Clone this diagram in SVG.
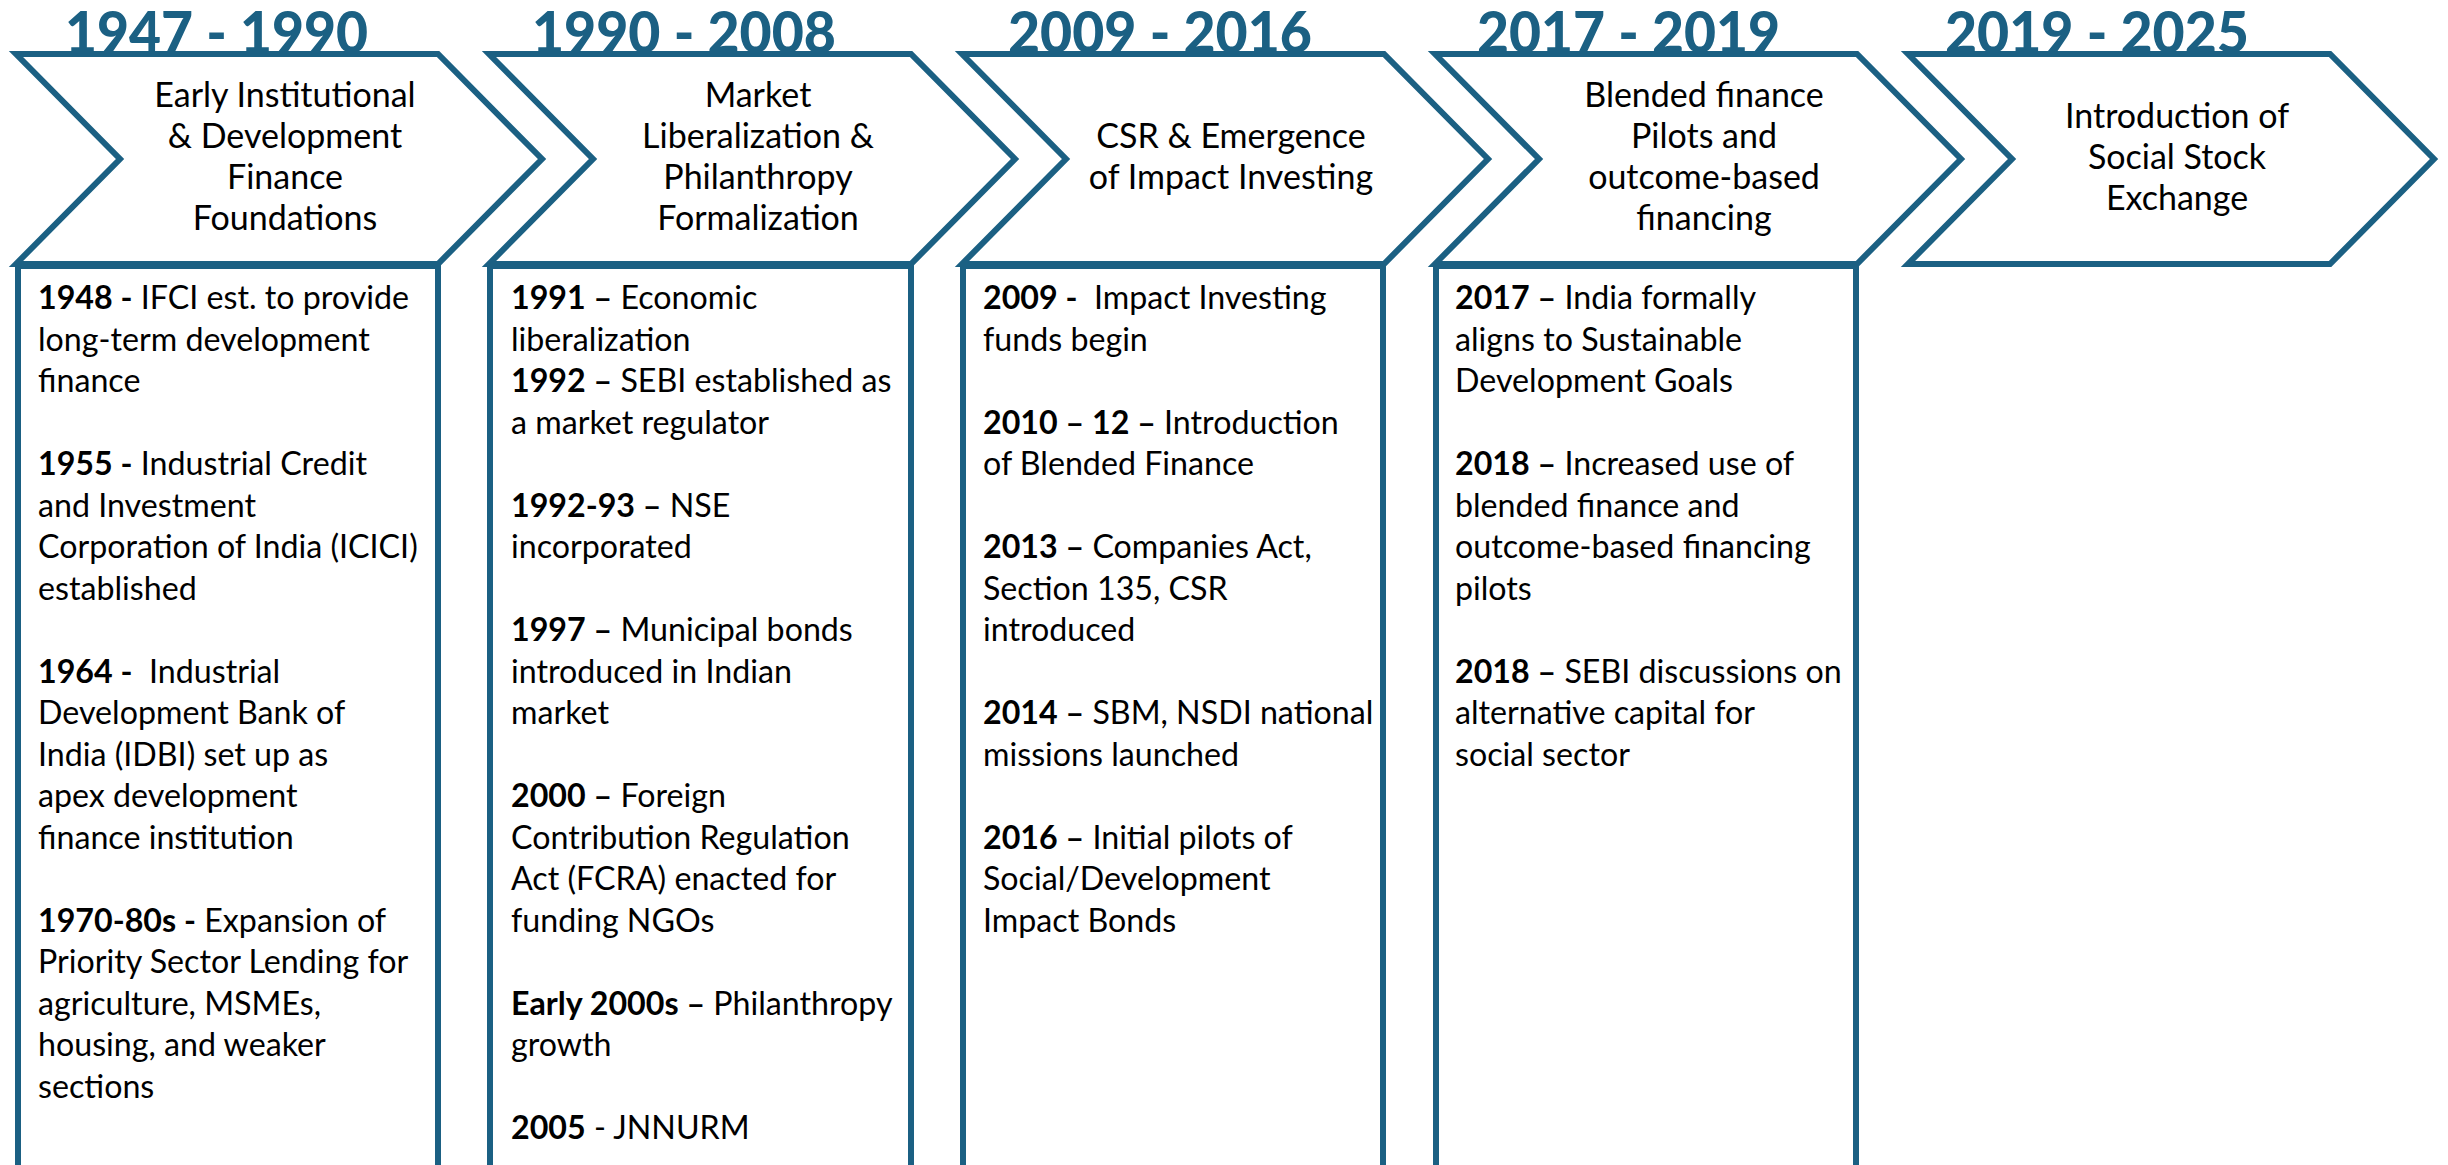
<svg xmlns="http://www.w3.org/2000/svg" width="2448" height="1165" viewBox="0 0 2448 1165">
<style>
.chev{fill:#fff;stroke:#1b6083;stroke-width:6;stroke-linejoin:miter;stroke-miterlimit:10}
.box{fill:#fff;stroke:#1b6083;stroke-width:6}
.yr{font-family:Lato,"Liberation Sans",sans-serif;font-weight:900;font-size:58px;fill:#1b6083}
.ttl{font-family:Lato,"Liberation Sans",sans-serif;font-size:34px;fill:#000;text-anchor:middle}
.bx{font-family:Lato,"Liberation Sans",sans-serif;font-size:32.2px;fill:#000}
.b{font-weight:bold}
</style>
<rect x="0" y="0" width="2448" height="1165" fill="#fff"/>
<g id="year-labels">
<text class="yr" x="65" y="53" textLength="303" lengthAdjust="spacingAndGlyphs">1947 - 1990</text>
<text class="yr" x="532" y="53" textLength="304" lengthAdjust="spacingAndGlyphs">1990 - 2008</text>
<text class="yr" x="1008" y="53" textLength="304" lengthAdjust="spacingAndGlyphs">2009 - 2016</text>
<text class="yr" x="1477" y="53" textLength="303" lengthAdjust="spacingAndGlyphs">2017 - 2019</text>
<text class="yr" x="1945" y="53" textLength="304" lengthAdjust="spacingAndGlyphs">2019 - 2025</text>
</g>
<g id="node-1">
<polygon class="chev" points="16,54 438,54 542,159 438,264 16,264 120,159"/>
<text class="ttl"><tspan x="285" y="107">Early Institutional</tspan><tspan x="285" y="148">&amp; Development</tspan><tspan x="285" y="189">Finance</tspan><tspan x="285" y="230">Foundations</tspan></text>
</g>
<g id="node-2">
<polygon class="chev" points="489,54 911,54 1015,159 911,264 489,264 593,159"/>
<text class="ttl"><tspan x="758" y="107">Market</tspan><tspan x="758" y="148">Liberalization &amp;</tspan><tspan x="758" y="189">Philanthropy</tspan><tspan x="758" y="230">Formalization</tspan></text>
</g>
<g id="node-3">
<polygon class="chev" points="962,54 1384,54 1488,159 1384,264 962,264 1066,159"/>
<text class="ttl"><tspan x="1231" y="148">CSR &amp; Emergence</tspan><tspan x="1231" y="189">of Impact Investing</tspan></text>
</g>
<g id="node-4">
<polygon class="chev" points="1435,54 1857,54 1961,159 1857,264 1435,264 1539,159"/>
<text class="ttl"><tspan x="1704" y="107">Blended finance</tspan><tspan x="1704" y="148">Pilots and</tspan><tspan x="1704" y="189">outcome-based</tspan><tspan x="1704" y="230">financing</tspan></text>
</g>
<g id="node-5">
<polygon class="chev" points="1908,54 2330,54 2434,159 2330,264 1908,264 2012,159"/>
<text class="ttl"><tspan x="2177" y="128">Introduction of</tspan><tspan x="2177" y="169">Social Stock</tspan><tspan x="2177" y="210">Exchange</tspan></text>
</g>
<g id="box-1">
<rect class="box" x="18" y="266" width="420" height="1000"/>
<text class="bx" xml:space="preserve"><tspan x="38" y="309"><tspan class="b">1948 -</tspan> IFCI est. to provide</tspan><tspan x="38" y="350.5">long-term development</tspan><tspan x="38" y="392">finance</tspan><tspan x="38" y="475"><tspan class="b">1955 -</tspan> Industrial Credit</tspan><tspan x="38" y="516.5">and Investment</tspan><tspan x="38" y="558">Corporation of India (ICICI)</tspan><tspan x="38" y="599.5">established</tspan><tspan x="38" y="682.5"><tspan class="b">1964 -</tspan>  Industrial</tspan><tspan x="38" y="724">Development Bank of</tspan><tspan x="38" y="765.5">India (IDBI) set up as</tspan><tspan x="38" y="807">apex development</tspan><tspan x="38" y="848.5">finance institution</tspan><tspan x="38" y="931.5"><tspan class="b">1970-80s -</tspan> Expansion of</tspan><tspan x="38" y="973">Priority Sector Lending for</tspan><tspan x="38" y="1014.5">agriculture, MSMEs,</tspan><tspan x="38" y="1056">housing, and weaker</tspan><tspan x="38" y="1097.5">sections</tspan></text>
</g>
<g id="box-2">
<rect class="box" x="490" y="266" width="421" height="1000"/>
<text class="bx" xml:space="preserve"><tspan x="511" y="309"><tspan class="b">1991 –</tspan> Economic</tspan><tspan x="511" y="350.5">liberalization</tspan><tspan x="511" y="392"><tspan class="b">1992 –</tspan> SEBI established as</tspan><tspan x="511" y="433.5">a market regulator</tspan><tspan x="511" y="516.5"><tspan class="b">1992-93 –</tspan> NSE</tspan><tspan x="511" y="558">incorporated</tspan><tspan x="511" y="641"><tspan class="b">1997 –</tspan> Municipal bonds</tspan><tspan x="511" y="682.5">introduced in Indian</tspan><tspan x="511" y="724">market</tspan><tspan x="511" y="807"><tspan class="b">2000 –</tspan> Foreign</tspan><tspan x="511" y="848.5">Contribution Regulation</tspan><tspan x="511" y="890">Act (FCRA) enacted for</tspan><tspan x="511" y="931.5">funding NGOs</tspan><tspan x="511" y="1014.5"><tspan class="b">Early 2000s –</tspan> Philanthropy</tspan><tspan x="511" y="1056">growth</tspan><tspan x="511" y="1139"><tspan class="b">2005</tspan> - JNNURM</tspan></text>
</g>
<g id="box-3">
<rect class="box" x="963" y="266" width="420" height="1000"/>
<text class="bx" xml:space="preserve"><tspan x="983" y="309"><tspan class="b">2009 -</tspan>  Impact Investing</tspan><tspan x="983" y="350.5">funds begin</tspan><tspan x="983" y="433.5"><tspan class="b">2010 – 12 –</tspan> Introduction</tspan><tspan x="983" y="475">of Blended Finance</tspan><tspan x="983" y="558"><tspan class="b">2013 –</tspan> Companies Act,</tspan><tspan x="983" y="599.5">Section 135, CSR</tspan><tspan x="983" y="641">introduced</tspan><tspan x="983" y="724"><tspan class="b">2014 –</tspan> SBM, NSDI national</tspan><tspan x="983" y="765.5">missions launched</tspan><tspan x="983" y="848.5"><tspan class="b">2016 –</tspan> Initial pilots of</tspan><tspan x="983" y="890">Social/Development</tspan><tspan x="983" y="931.5">Impact Bonds</tspan></text>
</g>
<g id="box-4">
<rect class="box" x="1436" y="266" width="420" height="1000"/>
<text class="bx" xml:space="preserve"><tspan x="1455" y="309"><tspan class="b">2017 –</tspan> India formally</tspan><tspan x="1455" y="350.5">aligns to Sustainable</tspan><tspan x="1455" y="392">Development Goals</tspan><tspan x="1455" y="475"><tspan class="b">2018 –</tspan> Increased use of</tspan><tspan x="1455" y="516.5">blended finance and</tspan><tspan x="1455" y="558">outcome-based financing</tspan><tspan x="1455" y="599.5">pilots</tspan><tspan x="1455" y="682.5"><tspan class="b">2018 –</tspan> SEBI discussions on</tspan><tspan x="1455" y="724">alternative capital for</tspan><tspan x="1455" y="765.5">social sector</tspan></text>
</g>
<g id="connectors"/>
</svg>
